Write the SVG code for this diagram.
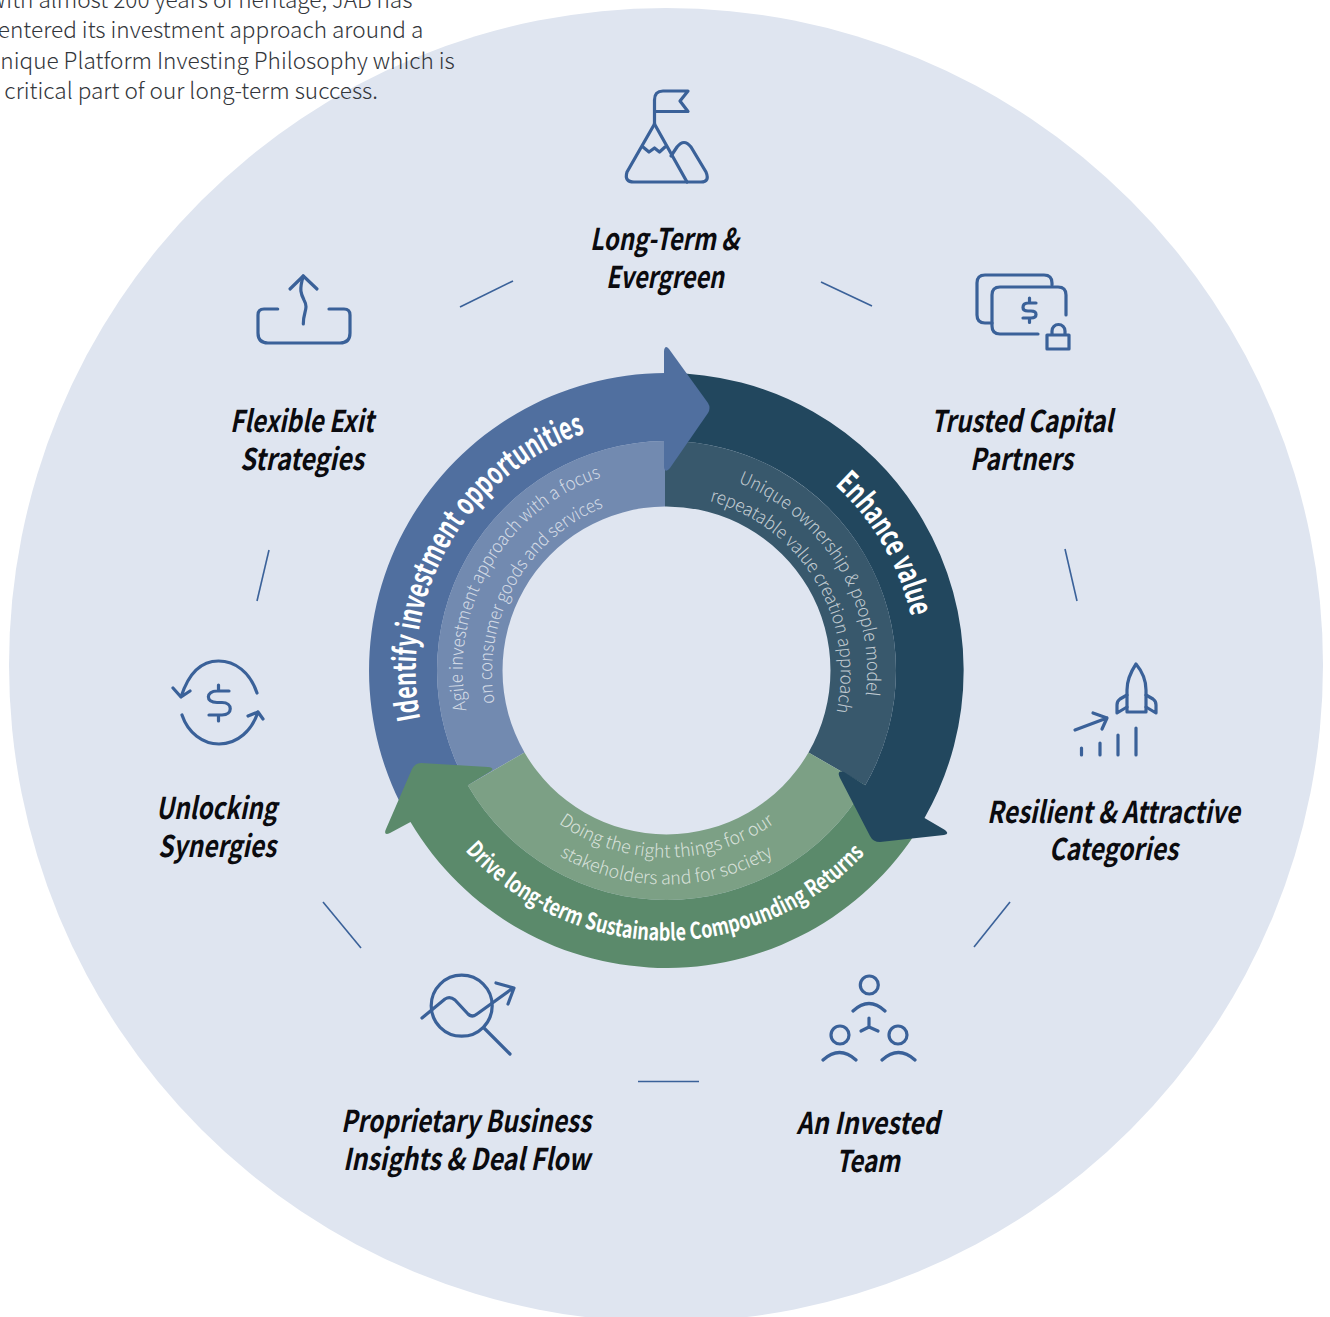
<svg xmlns="http://www.w3.org/2000/svg" width="1330" height="1317" viewBox="0 0 1330 1317">
<style>
text{font-family:"Noto Sans CJK SC","Noto Sans",sans-serif}
.label{font-size:30px;font-weight:700;font-style:italic;fill:#0b0b0f;text-anchor:middle}
.intro{font-size:22.6px;font-weight:300;fill:#33363b}
.big{font-size:31px;font-weight:700;fill:#fff;text-anchor:middle}
.mid{font-size:23px;font-weight:700;fill:#fff;text-anchor:middle}
.sub{font-size:18px;font-weight:300;fill:#fff;fill-opacity:.7;text-anchor:middle}
.ic{fill:none;stroke:#3a6199;stroke-width:3.2;stroke-linecap:round;stroke-linejoin:round}
.sep{fill:none;stroke:#3a6199;stroke-width:1.6}
</style>
<defs>
<path id="p1" d="M541 887.9A251 251 0 0 1 792 453.1"/>
<path id="p1a" d="M564.5 847.2A204 204 0 0 1 768.5 493.8"/>
<path id="p1b" d="M577.5 824.6A178 178 0 0 1 755.5 516.4"/>
<path id="p2" d="M535.7 452.8A254 254 0 0 1 797.3 888.2"/>
<path id="p2a" d="M561.4 495.7A204 204 0 0 1 771.6 845.3"/>
<path id="p2b" d="M574.8 518A178 178 0 0 1 758.2 823"/>
<path id="p3" d="M396.5 670.5A270 270 0 0 0 936.5 670.5"/>
<path id="p3a" d="M479.5 670.5A187 187 0 0 0 853.5 670.5"/>
<path id="p3b" d="M452.5 670.5A214 214 0 0 0 880.5 670.5"/>
</defs>
<circle cx="666" cy="665" r="657" fill="#dfe5f0"/>
<g id="intro">
<text class="intro" x="-13" y="8">With almost 200 years of heritage, JAB has</text>
<text class="intro" x="-13" y="38">centered its investment approach around a</text>
<text class="intro" x="-13" y="69">unique Platform Investing Philosophy which is</text>
<text class="intro" x="-13" y="99">a critical part of our long-term success.</text>
</g>
<g id="connectors">
<line class="sep" x1="460" y1="307" x2="513" y2="281"/>
<line class="sep" x1="821" y1="282" x2="872" y2="306"/>
<line class="sep" x1="1065" y1="549" x2="1077" y2="601"/>
<line class="sep" x1="1010" y1="902" x2="974" y2="947"/>
<line class="sep" x1="699" y1="1081.5" x2="638" y2="1081.5"/>
<line class="sep" x1="361" y1="948" x2="323" y2="902"/>
<line class="sep" x1="257" y1="601" x2="269" y2="550"/>
</g>
<g id="cycle-bands">
<path fill="#728ab0" d="M524.5 752.5A164 164 0 0 1 665 506.5V441A229.5 229.5 0 0 0 467.75 785.25Z"/>
<path fill="#38586c" d="M665 506.5A164 164 0 0 1 808.5 752.5L865.25 785.25A229.5 229.5 0 0 0 665 441Z"/>
<path fill="#7ca085" d="M524.5 752.5A164 164 0 0 0 808.5 752.5L865.25 785.25A229.5 229.5 0 0 1 467.75 785.25Z"/>
</g>
<g id="stage-identify">
<path fill="#506f9f" d="M408.9 819.25A297.5 297.5 0 0 1 665 373V441A229.5 229.5 0 0 0 467.75 785.25Z"/>
</g>
<g id="stage-drive">
<path fill="#5b8a6b" d="M924.1 819.25A297.5 297.5 0 0 1 410.5 822L390 833Q383 836 386 829L412 769Q415 763 421 763L488 767Q495 768 491 771L467.75 785.25A229.5 229.5 0 0 0 865.25 785.25Z"/>
<text class="mid" textLength="450" lengthAdjust="spacingAndGlyphs"><textPath href="#p3" startOffset="49.75%">Drive long-term Sustainable Compounding Returns</textPath></text>
<text class="sub" textLength="230" lengthAdjust="spacingAndGlyphs"><textPath href="#p3a" startOffset="50%">Doing the right things for our</textPath></text>
<text class="sub" textLength="224" lengthAdjust="spacingAndGlyphs"><textPath href="#p3b" startOffset="50%">stakeholders and for society</textPath></text>
</g>
<g id="stage-enhance">
<path fill="#22475e" d="M664 373A297.5 297.5 0 0 1 924.5 818L945 830Q950 834 944 835L880 842Q873 842 870 836L840 778Q836 770 844 772L865.25 785.25A229.5 229.5 0 0 0 664 441Z"/>
<text class="big" textLength="155" lengthAdjust="spacingAndGlyphs"><textPath href="#p2" startOffset="50.5%">Enhance value</textPath></text>
<text class="sub" textLength="267" lengthAdjust="spacingAndGlyphs"><textPath href="#p2a" startOffset="50%">Unique ownership &amp; people model</textPath></text>
<text class="sub" textLength="272" lengthAdjust="spacingAndGlyphs"><textPath href="#p2b" startOffset="50%">repeatable value creation approach</textPath></text>
</g>
<g id="stage-identify-head">
<path fill="#506f9f" d="M664 373V351Q665 344 669 349L708 403Q711 408 708 413L670 468Q665 474 664 467V441Z"/>
<text class="big" textLength="360" lengthAdjust="spacingAndGlyphs"><textPath href="#p1" startOffset="50%">Identify investment opportunities</textPath></text>
<text class="sub" textLength="294" lengthAdjust="spacingAndGlyphs"><textPath href="#p1a" startOffset="50%">Agile investment approach with a focus</textPath></text>
<text class="sub" textLength="242" lengthAdjust="spacingAndGlyphs"><textPath href="#p1b" startOffset="49.5%">on consumer goods and services</textPath></text>
</g>
<g id="node-long-term">
<path class="ic" d="M654.5 124V100Q654.5 91 663 91H688L680 101L688 111.5H654.5"/>
<path class="ic" d="M654.5 124L627 172Q624 182 634 182H701Q710 182 706 172L691 147Q684 138 677 147L671 156"/>
<path class="ic" d="M654.5 124L687 182M643 147L649 152L654.5 148L659.5 152L665 147"/>
<text class="label" x="664.5" y="250" textLength="149" lengthAdjust="spacingAndGlyphs">Long-Term &amp;</text>
<text class="label" x="665" y="288" textLength="118" lengthAdjust="spacingAndGlyphs">Evergreen</text>
</g>
<g id="node-trusted">
<path class="ic" d="M1052 285V283Q1052 275 1044 275H985Q977 275 977 283V315Q977 323 985 323H992"/>
<path class="ic" d="M1066 315V295Q1066 287 1058 287H1000Q992 287 992 295V326Q992 334 1000 334H1038"/>
<path class="ic" d="M1036 303H1028Q1023 303 1023 307.5Q1023 311 1028 311H1031Q1036 311 1036 314.5Q1036 318 1031 318H1023M1029.5 298V302M1029.5 319V322.5"/>
<path class="ic" d="M1047 335H1069V349H1047ZM1052 335V331A6.5 6.5 0 0 1 1065 331V335"/>
<text class="label" x="1022" y="432" textLength="182" lengthAdjust="spacingAndGlyphs">Trusted Capital</text>
<text class="label" x="1021.5" y="470" textLength="103" lengthAdjust="spacingAndGlyphs">Partners</text>
</g>
<g id="node-resilient">
<path class="ic" d="M1127 712V690C1127 678 1132 670 1136 664C1141 670 1146 678 1146 690V712Z"/>
<path class="ic" d="M1127 695L1120 699Q1117 701 1117 705V713L1127 707M1146 695L1153 699Q1156 701 1156 705V713L1146 707"/>
<path class="ic" d="M1075 730L1107 718M1093 713L1107 718L1102 729"/>
<path class="ic" d="M1081.5 748V755M1100 743V755M1118 735V755M1136 728V755"/>
<text class="label" x="1113.5" y="823" textLength="253" lengthAdjust="spacingAndGlyphs">Resilient &amp; Attractive</text>
<text class="label" x="1113.5" y="860" textLength="129" lengthAdjust="spacingAndGlyphs">Categories</text>
</g>
<g id="node-team">
<circle class="ic" cx="869.3" cy="985" r="9"/>
<circle class="ic" cx="840" cy="1035" r="9"/>
<circle class="ic" cx="898" cy="1035" r="9"/>
<path class="ic" d="M853 1011Q869 996 885 1011M823 1060Q839.5 1045 856 1060M882 1060Q898.5 1045 915 1060"/>
<path class="ic" d="M869 1018V1027M861 1031L869 1027L878 1031"/>
<text class="label" x="868" y="1134" textLength="143" lengthAdjust="spacingAndGlyphs">An Invested</text>
<text class="label" x="868" y="1172" textLength="64" lengthAdjust="spacingAndGlyphs">Team</text>
</g>
<g id="node-insights">
<circle class="ic" cx="461.7" cy="1005.7" r="30.5"/>
<path class="ic" d="M484 1028L510 1054"/>
<path class="ic" d="M422 1018L445 999Q450 996 455 1000L468 1014Q472 1018 477 1014L513 988M496 983L514 988L508 1004"/>
<text class="label" x="466" y="1132" textLength="250" lengthAdjust="spacingAndGlyphs">Proprietary Business</text>
<text class="label" x="466.5" y="1170" textLength="247" lengthAdjust="spacingAndGlyphs">Insights &amp; Deal Flow</text>
</g>
<g id="node-synergies">
<path class="ic" d="M257 693C250 672 235 661 218.5 661C200 661 188 675 181 697M173 688L181 697L190 691"/>
<path class="ic" d="M182 715C188 733 203 744 219 744C238 744 252 730 258 712M248 716L258 712L263 719"/>
<path class="ic" d="M229 691H217C206 691 205 702.5 217 702.5H222C233 702.5 233 715 222 715H209M218.5 685V690M218.5 716V721"/>
<text class="label" x="216.5" y="819" textLength="121" lengthAdjust="spacingAndGlyphs">Unlocking</text>
<text class="label" x="217" y="857" textLength="118" lengthAdjust="spacingAndGlyphs">Synergies</text>
</g>
<g id="node-flexible">
<path class="ic" d="M290 289L303.3 276L317 289"/>
<path class="ic" d="M303.3 276C299 290 301 294 304 300C309 309 303 312 303.3 324"/>
<path class="ic" d="M277.7 309H264Q258 309 258 315V333Q258 343 268 343H340Q350 343 350 333V315Q350 309 344 309H329"/>
<text class="label" x="302" y="432" textLength="144" lengthAdjust="spacingAndGlyphs">Flexible Exit</text>
<text class="label" x="302" y="470" textLength="124" lengthAdjust="spacingAndGlyphs">Strategies</text>
</g>
</svg>
